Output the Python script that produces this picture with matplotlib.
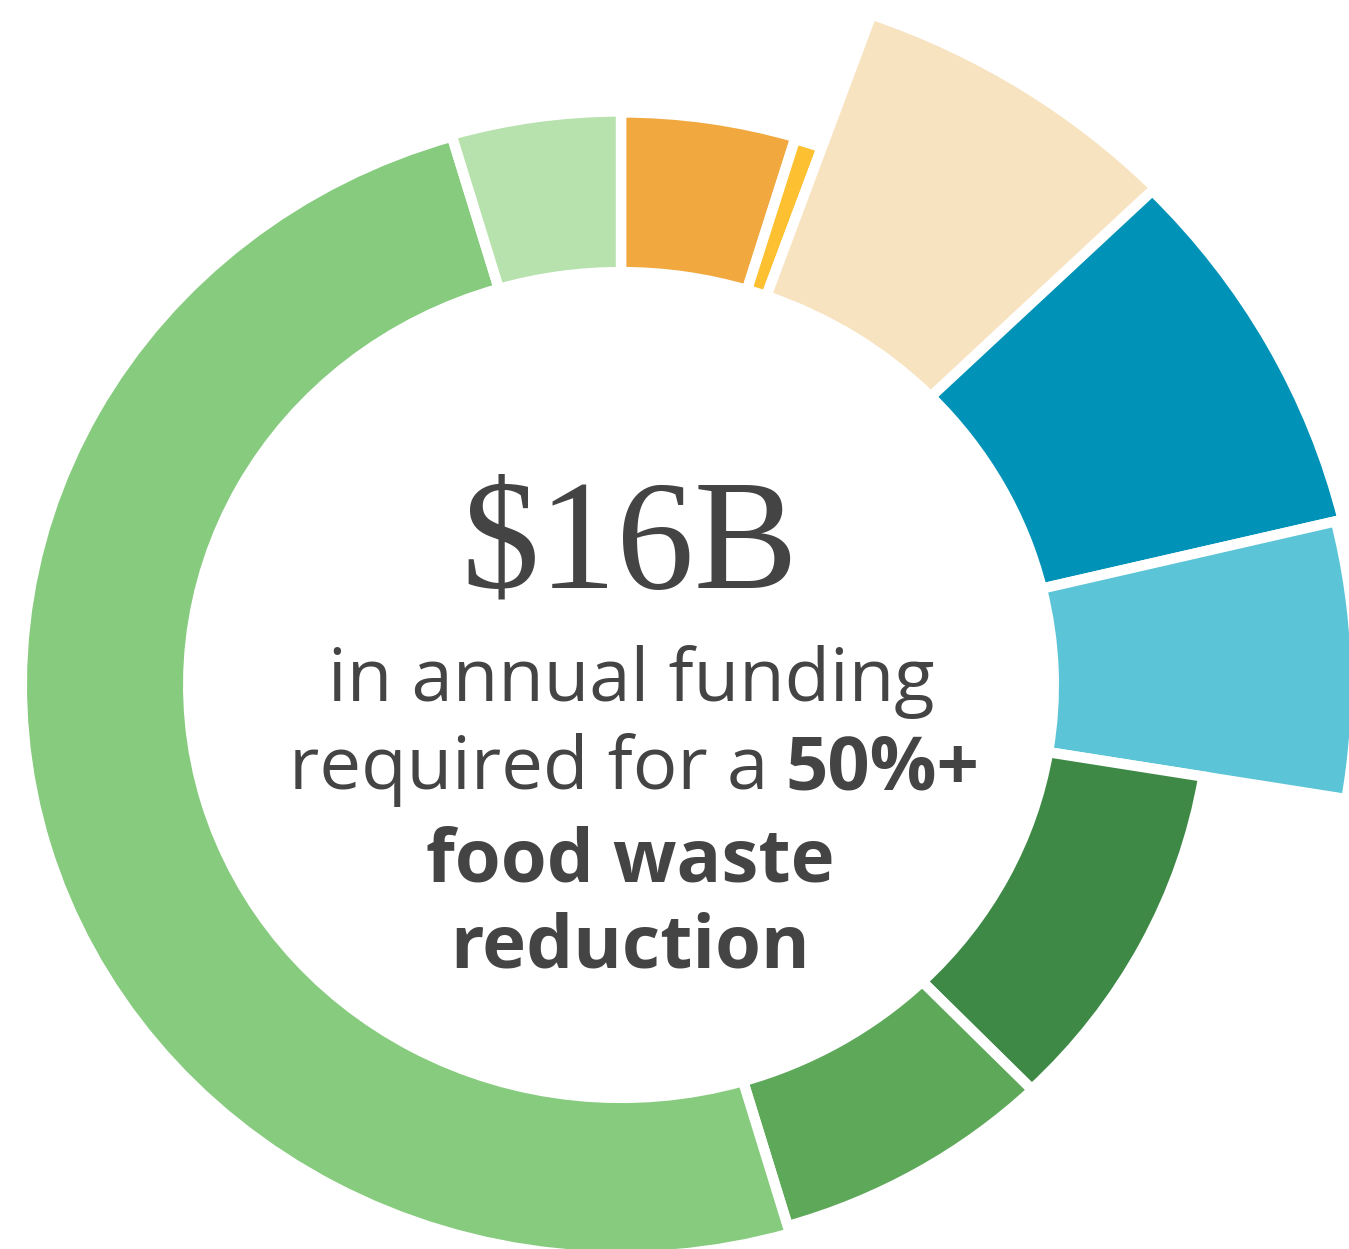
import matplotlib.pyplot as plt
from matplotlib.patches import Wedge

# parts of the $16B, percent of total, clockwise from 12 o'clock
shares = [4.7, 0.75, 7.25, 8.55, 6.35, 10.15, 7.7, 50.0, 4.55]
colors = ["#F0A83F", "#FDC030", "#F8E3C0", "#0092B7", "#5BC4D7",
          "#3E8946", "#5EA85A", "#86CB7E", "#B7E1AD"]
# visible outer radius of each slice (inner radius is common)
outer_r = [595, 593, 741, 737, 730, 585, 586, 594, 596]
inner_r = 438

headline = "$16B"
line1 = "in annual funding"
line2a = "required for a"
line2b = "50%+"
line3 = "food waste"
line4 = "reduction"

text_color = "#444444"
W, H = 1349, 1249
cx, cy = 621, 685
squash = 0.954

fig = plt.figure(figsize=(W / 100, H / 100), dpi=100)
ax = fig.add_axes([0, 0, 1, 1])
ax.set_xlim(-cx, W - cx)
ax.set_ylim((cy - H) / squash, cy / squash)
ax.set_aspect("auto")
ax.axis("off")

lw = 7.5  # white separator, points
half = lw * 100 / 72 / 2

start = 90.0
for share, col, r in zip(shares, colors, outer_r):
    span = share / 100 * 360
    rr = r + half
    w = Wedge((0, 0), rr, start - span, start, width=rr - (inner_r - half),
              facecolor=col, edgecolor="white", linewidth=lw)
    ax.add_patch(w)
    start -= span


def fx(x):
    return x / W


def fy(y):
    return 1 - y / H


fs = 53.5
fig.text(fx(630), fy(587), headline, ha="center", va="baseline",
         fontsize=112, family="Liberation Serif", color=text_color)
fig.text(fx(631), fy(701), line1, ha="center", va="baseline",
         fontsize=fs, family="Open Sans", color=text_color)
fig.text(fx(768), fy(789), line2a, ha="right", va="baseline",
         fontsize=fs, family="Open Sans", color=text_color)
fig.text(fx(785), fy(789), line2b, ha="left", va="baseline",
         fontsize=fs, family="Open Sans", fontweight="bold", color=text_color)
fig.text(fx(630), fy(882), line3, ha="center", va="baseline",
         fontsize=fs, family="Open Sans", fontweight="bold", color=text_color)
fig.text(fx(630), fy(968), line4, ha="center", va="baseline",
         fontsize=fs, family="Open Sans", fontweight="bold", color=text_color)

fig.savefig("out.png", dpi=100, facecolor="white")
